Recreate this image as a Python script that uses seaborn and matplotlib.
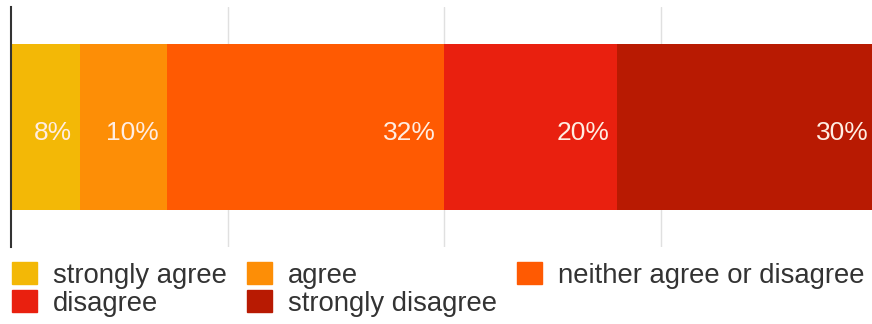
import numpy as np
import pandas as pd
import matplotlib
matplotlib.use("Agg")
import matplotlib.pyplot as plt
import matplotlib.patches as mpatches
import seaborn as sns

# survey answers
categories = ["strongly agree", "agree", "neither agree or disagree",
              "disagree", "strongly disagree"]
values = [8, 10, 32, 20, 30]
colors = ["#F3B806", "#FD8E06", "#FF5A02", "#E9200F", "#B81A02"]
grid_ticks = [25, 50, 75]

df = pd.DataFrame({"answer": categories, "pct": values})
df["cum"] = df["pct"].cumsum()
df["row"] = "q"

sns.set_style("white")
plt.rcParams["font.family"] = ["Liberation Sans", "DejaVu Sans"]

fig = plt.figure(figsize=(8.72, 3.24), dpi=100)
ax = fig.add_axes([11 / 872, 1 - 247 / 324, 866 / 872, 240 / 324])

for x in grid_ticks:
    ax.axvline(x, color="#E0E0E0", lw=1, zorder=0)

# stacked bar: draw cumulative totals from the largest down
for i in reversed(range(len(df))):
    sns.barplot(data=df.iloc[[i]], x="cum", y="row", orient="h",
                color=colors[i], saturation=1, width=0.69,
                linewidth=0, ax=ax, zorder=2)

for _, r in df.iterrows():
    ax.annotate(f"{r['pct']}%", (r["cum"], 0), xytext=(-8, -6),
                textcoords="offset pixels", ha="right", va="center",
                color="#FFEDE2", fontsize=19, zorder=3)

ax.set_xlim(0, 100)
ax.set_ylim(0.5, -0.5)
ax.set_xlabel("")
ax.set_ylabel("")
ax.set_xticks([])
ax.set_yticks([])
for s in ["top", "right", "bottom"]:
    ax.spines[s].set_visible(False)
ax.spines["left"].set_color("#333333")
ax.spines["left"].set_linewidth(1.5)

# legend laid out row by row in three columns
handles = [mpatches.Patch(color=c, label=l) for c, l in zip(colors, categories)]
order = [0, 3, 1, 4, 2]
fig.legend([handles[i] for i in order], [categories[i] for i in order],
           loc="upper left", bbox_to_anchor=(12 / 872, 1 - 262 / 324),
           ncol=3, frameon=False, fontsize=19.8, borderpad=0, borderaxespad=0,
           handlelength=0.9, handleheight=0.86, handletextpad=0.6,
           columnspacing=0.72, labelspacing=0.05, labelcolor="#333333")

fig.savefig("out.png", dpi=100)
